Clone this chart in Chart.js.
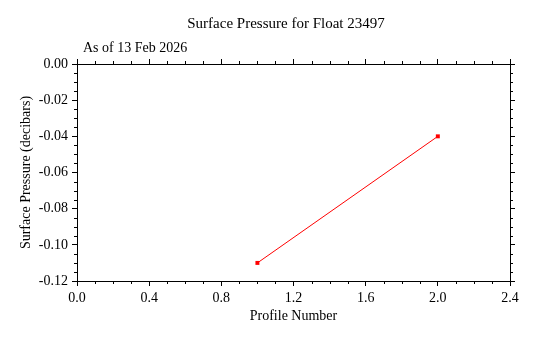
<!DOCTYPE html>
<html>
<head>
<meta charset="utf-8">
<script src="https://cdn.jsdelivr.net/npm/chart.js@4/dist/chart.umd.min.js"></script>
<style>
  html, body { margin: 0; padding: 0; background: #fff; }
  #wrap { width: 534px; height: 338px; position: relative; }
</style>
</head>
<body>
<div id="wrap"><canvas id="pressureChart"></canvas></div>
<script>
// --- Data ---
const profileNumbers = [1, 2];
const surfacePressure = [-0.11, -0.04];

// axis ranges / tick steps
const xRange = [0, 2.4];
const yRange = [-0.12, 0];
const xMajorStep = 0.4;
const yMajorStep = 0.02;
const xMinorStep = 0.1;
const yMinorStep = 0.005;

const chartTitle = 'Surface Pressure for Float 23497';
const asOfText = 'As of 13 Feb 2026';
const xTitle = 'Profile Number';
const yTitle = 'Surface Pressure (decibars)';

const FONT = '"Liberation Serif", "Times New Roman", serif';
Chart.defaults.font.family = FONT;
Chart.defaults.color = '#000';

// minor ticks on all four sides + title text
const framePlugin = {
    id: 'frame',
    afterDraw(chart) {
        const ctx = chart.ctx;
        const { left, right, top, bottom } = chart.chartArea;
        const xs = chart.scales.x, ys = chart.scales.y;
        const minorLen = 3;

        ctx.save();
        ctx.strokeStyle = '#000';
        ctx.lineWidth = 1;
        ctx.beginPath();
        const nx = Math.round((xRange[1] - xRange[0]) / xMinorStep);
        for (let i = 1; i < nx; i++) {
            if (i % 4 === 0) continue;
            const px = Math.round(xs.getPixelForValue(xRange[0] + i * xMinorStep)) + 0.5;
            ctx.moveTo(px, bottom); ctx.lineTo(px, bottom + minorLen);
            ctx.moveTo(px, top); ctx.lineTo(px, top - minorLen);
        }
        const ny = Math.round((yRange[1] - yRange[0]) / yMinorStep);
        for (let i = 1; i < ny; i++) {
            if (i % 4 === 0) continue;
            const py = Math.round(ys.getPixelForValue(yRange[0] + i * yMinorStep)) + 0.5;
            ctx.moveTo(left, py); ctx.lineTo(left - minorLen, py);
            ctx.moveTo(right, py); ctx.lineTo(right + minorLen, py);
        }
        ctx.stroke();

        ctx.fillStyle = '#000';
        ctx.textBaseline = 'alphabetic';
        ctx.font = '15px ' + FONT;
        ctx.textAlign = 'center';
        ctx.fillText(chartTitle, 286, 28);
        ctx.font = '14px ' + FONT;
        ctx.textAlign = 'left';
        ctx.fillText(asOfText, 83, 52);
        ctx.restore();
    }
};

const axisBase = {
    type: 'linear',
    border: { display: true, color: '#000', width: 1 },
    grid: { drawOnChartArea: false, drawTicks: true, tickLength: 5, color: '#000', lineWidth: 1 }
};

new Chart(document.getElementById('pressureChart'), {
    type: 'scatter',
    data: {
        datasets: [{
            data: profileNumbers.map((p, i) => ({ x: p, y: surfacePressure[i] })),
            showLine: true,
            borderColor: '#ff0000',
            borderWidth: 1,
            backgroundColor: '#ff0000',
            pointStyle: 'rect',
            pointRadius: 2.8,
            pointBorderWidth: 0,
            tension: 0
        }]
    },
    options: {
        responsive: true,
        maintainAspectRatio: false,
        animation: false,
        layout: { padding: 0 },
        plugins: {
            legend: { display: false },
            title: { display: false },
            tooltip: { enabled: false }
        },
        scales: {
            x: {
                ...axisBase,
                position: 'bottom',
                min: xRange[0], max: xRange[1],
                ticks: { stepSize: xMajorStep, padding: 4, font: { size: 14 },
                         callback: v => v.toFixed(1), maxRotation: 0 },
                title: { display: true, text: xTitle, font: { size: 14 }, padding: { top: 0, bottom: 13 } },
                afterFit: s => { s.height = 57; }
            },
            x2: {
                ...axisBase,
                position: 'top',
                min: xRange[0], max: xRange[1],
                ticks: { stepSize: xMajorStep, display: false },
                afterFit: s => { s.height = 64; }
            },
            y: {
                ...axisBase,
                position: 'left',
                min: yRange[0], max: yRange[1],
                ticks: { stepSize: yMajorStep, padding: 4, font: { size: 14 },
                         callback: v => v.toFixed(2) },
                title: { display: true, text: yTitle, font: { size: 14 }, padding: { top: 18, bottom: 0 } },
                afterFit: s => { s.width = 77; }
            },
            y2: {
                ...axisBase,
                position: 'right',
                min: yRange[0], max: yRange[1],
                ticks: { stepSize: yMajorStep, display: false },
                afterFit: s => { s.width = 24; }
            }
        }
    },
    plugins: [framePlugin]
});
</script>
</body>
</html>
